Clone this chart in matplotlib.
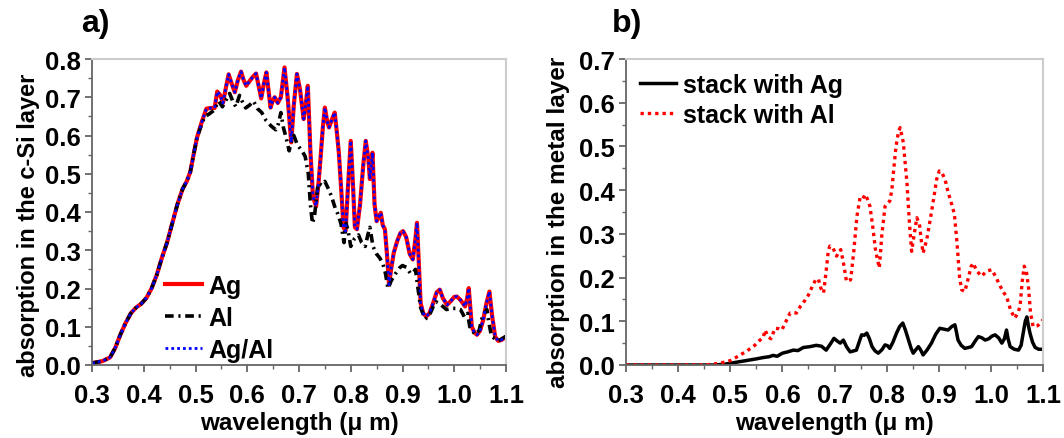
import matplotlib
matplotlib.use("Agg")
import matplotlib.pyplot as plt
from matplotlib.ticker import MultipleLocator, FormatStrFormatter

plt.rcParams['font.family'] = ['Liberation Sans', 'DejaVu Sans']
plt.rcParams['font.weight'] = 'bold'

# ---- panel a) absorption in c-Si layer ----
wl_a = [0.300, 0.320, 0.335, 0.345, 0.355, 0.365, 0.375, 0.385, 0.395, 0.405,
        0.415, 0.425, 0.435, 0.445, 0.455, 0.465, 0.475, 0.483, 0.490, 0.497,
        0.503, 0.512, 0.521, 0.530, 0.537, 0.542, 0.548, 0.553, 0.558, 0.564,
        0.570, 0.576, 0.582, 0.588, 0.593, 0.598, 0.606, 0.612, 0.617, 0.622,
        0.627, 0.632, 0.637, 0.641, 0.645, 0.649, 0.653, 0.659, 0.665, 0.672,
        0.678, 0.685, 0.690, 0.696, 0.702, 0.709, 0.713, 0.717, 0.722, 0.727,
        0.733, 0.738, 0.742, 0.746, 0.750, 0.754, 0.758, 0.763, 0.769, 0.773,
        0.777, 0.782, 0.786, 0.790, 0.794, 0.800, 0.804, 0.808, 0.812, 0.818,
        0.824, 0.829, 0.834, 0.837, 0.842, 0.846, 0.850, 0.855, 0.858, 0.862,
        0.866, 0.870, 0.874, 0.878, 0.883, 0.890, 0.896, 0.901, 0.907, 0.914,
        0.920, 0.925, 0.928, 0.931, 0.935, 0.940, 0.946, 0.952, 0.960, 0.966,
        0.972, 0.978, 0.986, 0.994, 1.000, 1.005, 1.012, 1.021, 1.025, 1.028,
        1.031, 1.034, 1.039, 1.044, 1.050, 1.056, 1.062, 1.068, 1.073, 1.079,
        1.085, 1.092, 1.100]
ag = [0.005, 0.010, 0.020, 0.045, 0.080, 0.110, 0.135, 0.150, 0.160, 0.175,
      0.200, 0.235, 0.280, 0.320, 0.370, 0.420, 0.460, 0.480, 0.505, 0.555,
      0.595, 0.635, 0.670, 0.672, 0.672, 0.715, 0.705, 0.685, 0.720, 0.760,
      0.735, 0.713, 0.745, 0.767, 0.745, 0.730, 0.745, 0.755, 0.762, 0.730,
      0.697, 0.735, 0.765, 0.720, 0.673, 0.690, 0.700, 0.685, 0.700, 0.778,
      0.700, 0.582, 0.680, 0.761, 0.720, 0.643, 0.680, 0.730, 0.560, 0.440,
      0.415, 0.480, 0.547, 0.620, 0.673, 0.640, 0.621, 0.640, 0.660, 0.610,
      0.555, 0.450, 0.360, 0.350, 0.450, 0.586, 0.480, 0.360, 0.355, 0.420,
      0.520, 0.586, 0.540, 0.486, 0.555, 0.420, 0.376, 0.390, 0.398, 0.365,
      0.355, 0.290, 0.210, 0.250, 0.293, 0.325, 0.345, 0.350, 0.335, 0.290,
      0.276, 0.330, 0.372, 0.280, 0.162, 0.135, 0.127, 0.135, 0.165, 0.190,
      0.197, 0.175, 0.157, 0.168, 0.178, 0.179, 0.170, 0.153, 0.175, 0.201,
      0.150, 0.100, 0.085, 0.079, 0.090, 0.118, 0.160, 0.192, 0.130, 0.074,
      0.063, 0.066, 0.074]
ag_al = list(ag)

wl_al = [0.300, 0.320, 0.335, 0.345, 0.355, 0.365, 0.375, 0.385, 0.395, 0.405,
         0.415, 0.425, 0.435, 0.445, 0.455, 0.465, 0.475, 0.483, 0.490, 0.497,
         0.503, 0.512, 0.518, 0.525, 0.535, 0.545, 0.552, 0.560, 0.566, 0.572,
         0.578, 0.585, 0.590, 0.597, 0.605, 0.612, 0.620, 0.628, 0.636, 0.646,
         0.655, 0.660, 0.665, 0.670, 0.675, 0.681, 0.686, 0.690, 0.697, 0.706,
         0.712, 0.718, 0.722, 0.726, 0.730, 0.737, 0.744, 0.750, 0.757, 0.763,
         0.770, 0.775, 0.781, 0.787, 0.791, 0.795, 0.800, 0.807, 0.815, 0.821,
         0.828, 0.833, 0.837, 0.843, 0.850, 0.856, 0.862, 0.867, 0.872, 0.878,
         0.887, 0.895, 0.900, 0.908, 0.915, 0.920, 0.925, 0.930, 0.935, 0.944,
         0.952, 0.960, 0.965, 0.972, 0.985, 0.995, 1.005, 1.012, 1.020, 1.026,
         1.030, 1.040, 1.048, 1.055, 1.063, 1.067, 1.072, 1.085, 1.100]
al = [0.005, 0.010, 0.020, 0.045, 0.080, 0.110, 0.135, 0.150, 0.160, 0.175,
      0.200, 0.235, 0.280, 0.320, 0.370, 0.420, 0.460, 0.480, 0.505, 0.555,
      0.595, 0.630, 0.650, 0.655, 0.665, 0.690, 0.675, 0.695, 0.710, 0.690,
      0.675, 0.705, 0.690, 0.672, 0.680, 0.690, 0.670, 0.660, 0.640, 0.625,
      0.615, 0.630, 0.660, 0.620, 0.595, 0.560, 0.590, 0.600, 0.575, 0.560,
      0.545, 0.500, 0.420, 0.370, 0.390, 0.475, 0.470, 0.480, 0.460, 0.440,
      0.410, 0.395, 0.370, 0.320, 0.370, 0.350, 0.310, 0.330, 0.340, 0.320,
      0.310, 0.340, 0.360, 0.310, 0.290, 0.280, 0.265, 0.240, 0.200, 0.220,
      0.240, 0.255, 0.260, 0.255, 0.240, 0.240, 0.250, 0.200, 0.150, 0.120,
      0.130, 0.155, 0.165, 0.160, 0.145, 0.148, 0.148, 0.145, 0.125, 0.135,
      0.100, 0.080, 0.090, 0.130, 0.145, 0.110, 0.075, 0.063, 0.075]

# ---- panel b) absorption in metal layer ----
wl_b_ag = [0.300, 0.400, 0.470, 0.490, 0.510, 0.530, 0.550, 0.563, 0.575, 0.582,
           0.590, 0.600, 0.610, 0.621, 0.630, 0.640, 0.653, 0.665, 0.675, 0.684,
           0.692, 0.699, 0.705, 0.711, 0.717, 0.723, 0.730, 0.742, 0.748, 0.752,
           0.757, 0.762, 0.767, 0.772, 0.778, 0.784, 0.791, 0.797, 0.802, 0.806,
           0.812, 0.819, 0.825, 0.831, 0.836, 0.842, 0.847, 0.851, 0.856, 0.861,
           0.865, 0.870, 0.878, 0.886, 0.894, 0.902, 0.910, 0.918, 0.925, 0.931,
           0.934, 0.937, 0.943, 0.950, 0.957, 0.963, 0.970, 0.976, 0.983, 0.989,
           0.996, 1.002, 1.008, 1.015, 1.021, 1.026, 1.030, 1.033, 1.037, 1.045,
           1.053, 1.058, 1.062, 1.066, 1.069, 1.072, 1.075, 1.080, 1.085, 1.092,
           1.100]
stack_ag = [0.000, 0.000, 0.000, 0.002, 0.006, 0.010, 0.014, 0.017, 0.019, 0.022,
            0.020, 0.027, 0.030, 0.034, 0.033, 0.040, 0.042, 0.045, 0.043, 0.034,
            0.048, 0.061, 0.055, 0.050, 0.057, 0.042, 0.030, 0.034, 0.055, 0.069,
            0.068, 0.073, 0.060, 0.042, 0.032, 0.027, 0.035, 0.046, 0.044, 0.038,
            0.052, 0.073, 0.088, 0.096, 0.080, 0.057, 0.038, 0.027, 0.035, 0.042,
            0.035, 0.023, 0.035, 0.050, 0.070, 0.084, 0.082, 0.080, 0.088, 0.092,
            0.075, 0.057, 0.045, 0.038, 0.040, 0.042, 0.055, 0.065, 0.062, 0.057,
            0.060, 0.066, 0.069, 0.062, 0.050, 0.060, 0.080, 0.060, 0.042, 0.036,
            0.034, 0.045, 0.073, 0.100, 0.110, 0.090, 0.073, 0.052, 0.040, 0.036,
            0.036]

wl_b_al = [0.300, 0.440, 0.460, 0.480, 0.500, 0.515, 0.532, 0.547, 0.557, 0.563,
           0.567, 0.572, 0.578, 0.586, 0.593, 0.599, 0.607, 0.615, 0.627, 0.635,
           0.640, 0.650, 0.659, 0.664, 0.669, 0.674, 0.679, 0.684, 0.688, 0.691,
           0.697, 0.704, 0.708, 0.712, 0.717, 0.723, 0.731, 0.737, 0.743, 0.749,
           0.754, 0.759, 0.763, 0.768, 0.773, 0.779, 0.786, 0.791, 0.797, 0.806,
           0.810, 0.813, 0.818, 0.823, 0.826, 0.832, 0.839, 0.844, 0.848, 0.853,
           0.858, 0.863, 0.867, 0.870, 0.877, 0.884, 0.890, 0.896, 0.901, 0.906,
           0.912, 0.918, 0.925, 0.930, 0.935, 0.940, 0.944, 0.950, 0.957, 0.962,
           0.966, 0.973, 0.982, 0.992, 1.002, 1.010, 1.018, 1.025, 1.030, 1.038,
           1.046, 1.052, 1.056, 1.060, 1.064, 1.068, 1.072, 1.076, 1.081, 1.090,
           1.100]
stack_al = [0.000, 0.000, 0.001, 0.004, 0.010, 0.020, 0.032, 0.045, 0.057, 0.062,
            0.080, 0.065, 0.060, 0.084, 0.083, 0.080, 0.100, 0.119, 0.119, 0.135,
            0.142, 0.160, 0.184, 0.195, 0.197, 0.175, 0.165, 0.215, 0.260, 0.272,
            0.268, 0.249, 0.258, 0.264, 0.235, 0.191, 0.195, 0.260, 0.340, 0.383,
            0.380, 0.390, 0.380, 0.363, 0.320, 0.260, 0.222, 0.300, 0.363, 0.375,
            0.400, 0.440, 0.500, 0.535, 0.543, 0.509, 0.417, 0.320, 0.260, 0.300,
            0.337, 0.322, 0.280, 0.256, 0.287, 0.335, 0.379, 0.425, 0.444, 0.440,
            0.425, 0.395, 0.367, 0.345, 0.280, 0.200, 0.172, 0.168, 0.200, 0.225,
            0.233, 0.215, 0.203, 0.215, 0.218, 0.200, 0.180, 0.165, 0.157, 0.125,
            0.107, 0.120, 0.134, 0.190, 0.226, 0.215, 0.180, 0.120, 0.088, 0.090,
            0.103]

fig = plt.figure(figsize=(10.64, 4.39), dpi=100)
ax1 = fig.add_axes([92/1064, 73/439, 414/1064, 306/439])
ax2 = fig.add_axes([626/1064, 73/439, 417/1064, 306/439])


def style(ax, ymax):
    ax.set_xlim(0.3, 1.1)
    ax.set_ylim(0, ymax)
    ax.xaxis.set_major_locator(MultipleLocator(0.1))
    ax.xaxis.set_minor_locator(MultipleLocator(0.05))
    ax.yaxis.set_major_locator(MultipleLocator(0.1))
    ax.yaxis.set_minor_locator(MultipleLocator(0.05))
    ax.xaxis.set_major_formatter(FormatStrFormatter('%.1f'))
    ax.yaxis.set_major_formatter(FormatStrFormatter('%.1f'))
    for s in ['left', 'bottom']:
        ax.spines[s].set_color('#666666')
        ax.spines[s].set_linewidth(1.3)
    for s in ['top', 'right']:
        ax.spines[s].set_color('#cccccc')
        ax.spines[s].set_linewidth(1.5)
    ax.tick_params(which='major', direction='out', length=5, width=1.3,
                   color='#666666', labelsize=18.5)
    ax.tick_params(axis='x', which='major', pad=8)
    ax.tick_params(axis='y', which='major', pad=3)
    ax.tick_params(which='minor', direction='out', length=3, width=1.0,
                   color='#666666')
    ax.set_xlabel('wavelength (μ m)', fontsize=17.5, fontweight='bold', labelpad=3)


style(ax1, 0.8)
style(ax2, 0.7)

ax1.plot(wl_a, ag, color='red', lw=3.0, label='Ag')
ax1.plot(wl_al, al, color='black', lw=2.6, ls=(0, (2.4, 1.3, 0.6, 1.3)), label='Al')
ax1.plot(wl_a, ag_al, color='blue', lw=2.0, ls=(0, (1, 1.1)), label='Ag/Al')
ax1.set_ylabel('absorption in the c-Si layer', fontsize=17, fontweight='bold')
ax1.yaxis.set_label_coords(-0.125, 0.46)
ax1.legend(loc='lower left', bbox_to_anchor=(0.177, 0.01), frameon=False,
           fontsize=18, handlelength=1.45, handletextpad=0.28, labelspacing=0.32,
           borderpad=0, borderaxespad=0)

ax2.plot(wl_b_ag, stack_ag, color='black', lw=2.5, label='stack with Ag')
ax2.plot(wl_b_al, stack_al, color='red', lw=2.4, ls=(0, (1, 1.2)), label='stack with Al')
ax2.set_ylabel('absorption in the metal layer', fontsize=17.5, fontweight='bold')
ax2.yaxis.set_label_coords(-0.135, 0.47)
ax2.legend(loc='upper left', bbox_to_anchor=(0.034, 0.955), frameon=False,
           fontsize=18, handlelength=1.45, handletextpad=0.28, labelspacing=0.24,
           borderpad=0, borderaxespad=0)

fig.text(95/1064, 1 - 24/439, 'a)', fontsize=23, fontweight='bold', ha='center', va='center')
fig.text(627/1064, 1 - 24/439, 'b)', fontsize=23, fontweight='bold', ha='center', va='center')

fig.savefig('out.png', dpi=100)
